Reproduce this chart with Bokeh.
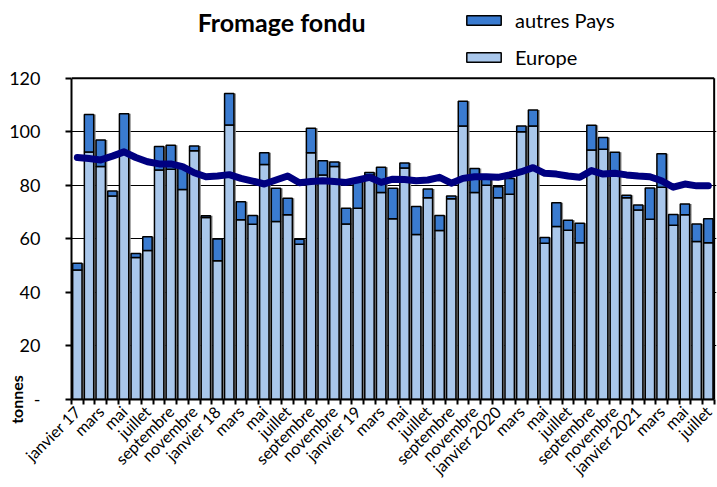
import math
from bokeh.plotting import figure
from bokeh.models import (Range1d, FixedTicker, Label, Legend, LegendItem, ColumnDataSource,
                          LinearAxis)
from bokeh.transform import stack, dodge
from bokeh.embed import file_html
from bokeh.resources import INLINE

months = [
    "janvier 17", "février", "mars", "avril", "mai", "juin", "juillet", "août",
    "septembre", "octobre", "novembre", "décembre",
    "janvier 18", "février", "mars", "avril", "mai", "juin", "juillet", "août",
    "septembre", "octobre", "novembre", "décembre",
    "janvier 19", "février", "mars", "avril", "mai", "juin", "juillet", "août",
    "septembre", "octobre", "novembre", "décembre",
    "janvier 2020", "février", "mars", "avril", "mai", "juin", "juillet", "août",
    "septembre", "octobre", "novembre", "décembre",
    "janvier 2021", "février", "mars", "avril", "mai", "juin", "juillet",
]

europe = [48.4, 92.5, 87.0, 76.0, 92.5, 53.0, 55.7, 85.7, 86.0, 78.4, 92.9, 68.0,
          51.8, 102.5, 67.1, 65.5, 87.8, 66.5, 69.0, 58.0, 92.2, 83.9, 87.0, 65.6,
          71.4, 83.9, 77.3, 67.5, 86.5, 61.6, 75.4, 63.1, 75.0, 102.2, 77.3, 80.0,
          75.4, 76.7, 100.0, 102.2, 58.4, 64.6, 63.2, 58.6, 93.2, 93.5, 84.5, 75.4,
          70.8, 67.3, 79.3, 65.1, 69.0, 59.0, 58.6]

autres = [2.5, 14.0, 9.9, 1.9, 14.2, 1.5, 5.1, 8.8, 9.0, 8.6, 1.8, 0.6,
          8.2, 11.8, 6.8, 3.2, 4.4, 12.4, 6.2, 1.9, 9.1, 5.3, 1.7, 5.8,
          10.1, 0.9, 9.5, 11.4, 1.8, 10.5, 3.2, 5.6, 1.0, 9.2, 9.0, 2.5,
          4.1, 5.9, 2.2, 5.9, 2.1, 8.9, 3.8, 7.2, 9.2, 4.4, 7.9, 0.9,
          1.9, 11.7, 12.5, 4.0, 4.0, 6.6, 8.9]

moyenne = [90.4, 90.0, 89.5, 90.9, 92.5, 90.4, 88.8, 88.0, 88.0, 87.0, 84.7, 83.2,
           83.5, 84.0, 82.6, 81.6, 80.5, 82.0, 83.5, 81.0, 81.4, 81.7, 81.4, 81.1,
           82.0, 83.0, 81.1, 82.3, 82.2, 81.7, 82.0, 83.0, 80.8, 82.6, 83.2, 83.2,
           83.0, 83.9, 85.1, 86.6, 84.5, 84.2, 83.5, 83.0, 85.5, 84.2, 84.5, 83.9,
           83.5, 83.2, 81.7, 79.3, 80.5, 79.8, 79.8]

yticks = [0, 20, 40, 60, 80, 100, 120]
YMAX = 120

FONT = "Lato"
C_EU = "#A9C7EB"
C_AU = "#3A7BD0"

n = len(months)
xs = [i + 0.5 for i in range(n)]
src = ColumnDataSource(dict(x=xs, europe=europe, autres=autres, moyenne=moyenne))

p = figure(width=717, height=487, x_range=Range1d(0, n + 0.2), y_range=Range1d(0, 148.3),
           output_backend="svg", toolbar_location=None,
           min_border_left=71, min_border_right=1, min_border_top=2, min_border_bottom=87)
p.background_fill_color = "white"
p.border_fill_color = "white"
p.outline_line_color = None

# shadow
p.vbar(x=dodge("x", 0.17), top=stack("europe", "autres"), width=0.8, source=src,
       fill_color="#8C8C8C", line_color=None)

rs = p.vbar_stack(["europe", "autres"], x="x", width=0.8, source=src,
                  fill_color=[C_EU, C_AU], line_color="black", line_width=1.5)

p.line(x="x", y="moyenne", source=src, line_width=7, line_color="#000080",
       line_join="round", line_cap="round")

# plot-area border (top and right)
p.segment(x0=[0, n], y0=[YMAX, 0], x1=[n, n], y1=[YMAX, YMAX], line_color="black", line_width=2)

# grid
p.xgrid.visible = False
p.ygrid.ticker = FixedTicker(ticks=yticks[1:-1])
p.ygrid.grid_line_color = "black"
p.ygrid.grid_line_width = 1
p.ygrid.bounds = (0, n)

# x axis
xa = p.xaxis[0]
xa.bounds = (0, n)
xa.ticker = FixedTicker(ticks=[xs[i] for i in range(0, n, 2)], minor_ticks=list(range(n + 1)))
xa.major_label_overrides = {xs[i]: months[i] for i in range(0, n, 2)}
xa.major_label_orientation = math.pi / 4
xa.major_tick_line_color = None
xa.major_tick_out = 0
xa.major_tick_in = 0
xa.minor_tick_line_color = "black"
xa.minor_tick_line_width = 2
xa.minor_tick_out = 5
xa.minor_tick_in = 0
xa.axis_line_width = 2
xa.axis_line_color = "black"
xa.major_label_text_font = FONT
xa.major_label_text_font_size = "16px"
xa.major_label_text_color = "black"
xa.major_label_standoff = 4

# inner y axis: line + tick marks only (tick marks drawn as minor ticks, no labels)
ya = p.yaxis[0]
ya.bounds = (0, YMAX)
ya.ticker = FixedTicker(ticks=[], minor_ticks=yticks)
ya.major_tick_out = 6
ya.major_tick_in = 0
ya.major_tick_line_color = None
ya.minor_tick_out = 6
ya.minor_tick_in = 0
ya.minor_tick_line_width = 2
ya.minor_tick_line_color = "black"
ya.axis_line_width = 2
ya.axis_line_color = "black"
ya.major_label_standoff = 0

# middle axis: the "tonnes" title, written as a vertical label at the foot of the axis
p.extra_y_ranges = {"lab": Range1d(0, 1)}
ta = LinearAxis(y_range_name="lab", ticker=FixedTicker(ticks=[0]),
                major_label_overrides={0: "tonnes"}, major_label_orientation="vertical",
                major_label_text_font=FONT, major_label_text_font_size="16px",
                major_label_text_font_style="bold", major_label_text_color="black",
                major_label_standoff=40,
                axis_line_color=None, major_tick_out=0, major_tick_in=0,
                major_tick_line_color=None, minor_tick_line_color=None)
p.add_layout(ta, "left")

# outer axis: the tick labels
na = LinearAxis(ticker=FixedTicker(ticks=yticks), major_label_overrides={0: "-"},
                axis_line_color=None, major_tick_out=0, major_tick_in=0,
                major_tick_line_color=None, minor_tick_line_color=None,
                major_label_text_font=FONT, major_label_text_font_size="18px",
                major_label_text_color="black", major_label_standoff=-37)
p.add_layout(na, "left")

# title
p.add_layout(Label(x=17.98, y=140.9, text="Fromage fondu", text_align="center",
                   text_baseline="middle", text_font=FONT, text_font_size="25px",
                   text_font_style="bold", text_color="black"))

legend = Legend(items=[LegendItem(label="autres Pays", renderers=[rs[1]]),
                       LegendItem(label="Europe", renderers=[rs[0]])],
                location=(391, 330), orientation="vertical",
                glyph_width=43, glyph_height=12, label_height=22, spacing=13,
                label_standoff=10, padding=0, margin=0,
                border_line_color=None, background_fill_alpha=0,
                label_text_font=FONT, label_text_font_size="20px", label_text_color="black")
p.add_layout(legend)

open("out.html", "w").write(file_html(p, INLINE))
